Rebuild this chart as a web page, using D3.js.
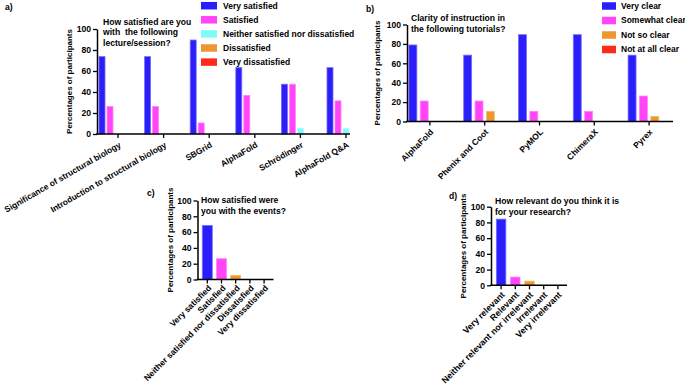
<!DOCTYPE html>
<html>
<head>
<meta charset="utf-8">
<script src="https://cdn.jsdelivr.net/npm/d3@7"></script>
<style>
  html, body { margin: 0; padding: 0; background: #fff; }
  svg text { font-family: 'Liberation Sans', Arial, sans-serif; font-weight: bold; fill: #000; }
</style>
</head>
<body>
<svg id="chart" width="685" height="385"></svg>
<script>
// ---------- DATA ----------
const yTicks = [0, 20, 40, 60, 80, 100];

// Panel a
const aCategories = ["Significance of structural biology", "Introduction to structural biology", "SBGrid", "AlphaFold", "Schrödinger", "AlphaFold Q&A"];
const aSeriesNames = ["Very satisfied", "Satisfied", "Neither satisfied nor dissatisfied", "Dissatisfied", "Very dissatisfied"];
const aVerySatisfied = [73.7, 73.7, 89.5, 63.2, 47.4, 63.2];
const aSatisfied = [26.3, 26.3, 10.5, 36.8, 47.4, 31.6];
const aNeither = [0, 0, 0, 0, 5.3, 5.3];
const aDissatisfied = [0, 0, 0, 0, 0, 0];
const aVeryDissatisfied = [0, 0, 0, 0, 0, 0];
const aTitle = ["How satisfied are you", "with  the following", "lecture/session?"];

// Panel b
const bCategories = ["AlphaFold", "Phenix and Coot", "PyMOL", "ChimeraX", "Pyrex"];
const bSeriesNames = ["Very clear", "Somewhat clear", "Not so clear", "Not at all clear"];
const bVeryClear = [78.9, 68.4, 89.5, 89.5, 68.4];
const bSomewhatClear = [21.1, 21.1, 10.5, 10.5, 26.3];
const bNotSoClear = [0, 10.5, 0, 0, 5.3];
const bNotAtAllClear = [0, 0, 0, 0, 0];
const bTitle = ["Clarity of instruction in", "the following tutorials?"];

// Panel c
const cCategories = ["Very satisfied", "Satisfied", "Neither satisfied nor dissatisfied", "Dissatisfied", "Very dissatisfied"];
const cValues = [68.4, 26.3, 5.3, 0, 0];
const cTitle = ["How satisfied were", "you with the events?"];

// Panel d
const dCategories = ["Very relevant", "Relevant", "Neither relevant nor irrelevant", "Irrelevant", "Very irrelevant"];
const dValues = [84.2, 10.5, 5.3, 0, 0];
const dTitle = ["How relevant do you think it is", "for your research?"];

const yAxisTitle = "Percentages of participants";

// ---------- STYLE ----------
const BLUE = "#2a1ffa", PINK = "#ff45f7", CYAN = "#80fbfb", ORANGE = "#ee9630", RED = "#ff2b1a";
const aColors = [BLUE, PINK, CYAN, ORANGE, RED];
const bColors = [BLUE, PINK, ORANGE, RED];
const cColors = [BLUE, PINK, ORANGE, ORANGE, RED];
const dColors = [BLUE, PINK, ORANGE, ORANGE, RED];
const FS = 8.5;

const svg = d3.select("#chart");

function edge(c) { return d3.interpolateRgb(c, "#ffffff")(0.35); }

function drawAxes(g, o, x, y) {
  const ya = g.append("g").attr("transform", `translate(${o.axX0},0)`)
    .call(d3.axisLeft(y).tickValues(yTicks).tickSize(4).tickPadding(2).tickSizeOuter(0));
  ya.select(".domain").attr("stroke", "#000").attr("stroke-width", 1.5);
  ya.selectAll(".tick line").attr("stroke", "#000").attr("stroke-width", 1.3);
  ya.selectAll(".tick text").style("font-size", "8.6px").attr("font-family", null);

  const xa = g.append("g").attr("transform", `translate(0,${o.y0})`)
    .call(d3.axisBottom(x).tickSize(4).tickSizeOuter(0));
  xa.select(".domain").remove();
  xa.append("line").attr("x1", o.axX0 - 0.75).attr("x2", o.axX1).attr("y1", 0).attr("y2", 0)
    .attr("stroke", "#000").attr("stroke-width", 1.5);
  xa.selectAll(".tick line").attr("stroke", "#000").attr("stroke-width", 1.3);
  xa.selectAll(".tick text")
    .style("font-size", o.lblFS + "px").attr("font-family", null)
    .attr("text-anchor", "end").attr("x", 0).attr("y", 0).attr("dy", "0.35em")
    .attr("transform", `translate(${o.lblDx},${o.lblDy}) rotate(${o.angle})`);

  g.append("text").attr("transform", `translate(${o.ytX},${(o.y0 + o.y100) / 2}) rotate(-90)`)
    .attr("text-anchor", "middle").attr("dy", "0.35em")
    .style("font-size", "8px").text(yAxisTitle);

  const t = g.append("text").style("font-size", "8.6px");
  o.title.forEach((line, i) => {
    t.append("tspan").attr("x", o.titleX).attr("y", o.titleY + i * o.titleLH)
      .attr("xml:space", "preserve").text(line);
  });
  g.append("text").attr("x", o.letterX).attr("y", o.letterY).style("font-size", "8.6px").text(o.letter);
}

function groupedPanel(o) {
  const g = svg.append("g");
  const y = d3.scaleLinear().domain([0, 100]).range([o.y0, o.y100]);
  const x = d3.scaleBand().domain(o.cats).range([o.bx0, o.bx1]).padding(0);
  const inner = d3.scaleBand().domain(o.series).range([-o.half, o.half]).paddingInner(o.innerPad);
  o.values.forEach((vals, si) => {
    g.append("g").selectAll("rect").data(vals.map((v, i) => ({ v, c: o.cats[i] })).filter(d => d.v > 0))
      .join("rect")
      .attr("x", d => x(d.c) + x.bandwidth() / 2 + inner(o.series[si]))
      .attr("width", inner.bandwidth())
      .attr("y", d => y(d.v))
      .attr("height", d => y(0) - y(d.v))
      .attr("fill", o.colors[si])
      .attr("stroke", edge(o.colors[si])).attr("stroke-width", 0.8);
  });
  drawAxes(g, o, x, y);
  const lg = g.append("g");
  o.series.forEach((s, i) => {
    const cy = o.legY + i * o.legStep;
    lg.append("rect").attr("x", o.legX).attr("y", cy - o.swH / 2).attr("width", o.swW).attr("height", o.swH)
      .attr("fill", o.colors[i]);
    lg.append("text").attr("x", o.legTX).attr("y", cy).attr("dy", "0.35em")
      .style("font-size", FS + "px").text(s);
  });
}

function singlePanel(o) {
  const g = svg.append("g");
  const y = d3.scaleLinear().domain([0, 100]).range([o.y0, o.y100]);
  const x = d3.scaleBand().domain(o.cats).range([o.bx0, o.bx1]).padding(0);
  g.append("g").selectAll("rect").data(o.values.map((v, i) => ({ v, c: o.cats[i], i })).filter(d => d.v > 0))
    .join("rect")
    .attr("x", d => x(d.c) + x.bandwidth() / 2 - o.barW / 2)
    .attr("width", o.barW)
    .attr("y", d => y(d.v))
    .attr("height", d => y(0) - y(d.v))
    .attr("fill", d => o.colors[d.i])
    .attr("stroke", d => edge(o.colors[d.i])).attr("stroke-width", 0.8);
  drawAxes(g, o, x, y);
}

groupedPanel({
  cats: aCategories, series: aSeriesNames,
  values: [aVerySatisfied, aSatisfied, aNeither, aDissatisfied, aVeryDissatisfied],
  colors: aColors,
  y0: 134, y100: 29, axX0: 97, axX1: 350, bx0: 95.2, bx1: 368.8, half: 19, innerPad: 0.25,
  lblDx: 2, lblDy: 10, angle: -30, lblFS: 8.4,
  ytX: 69, title: aTitle, titleX: 103, titleY: 24.5, titleLH: 10.6,
  letter: "a)", letterX: 5, letterY: 10,
  legX: 201, legTX: 223, legY: 5.7, legStep: 14.1, swW: 16, swH: 7.5
});

groupedPanel({
  cats: bCategories, series: bSeriesNames,
  values: [bVeryClear, bSomewhatClear, bNotSoClear, bNotAtAllClear],
  colors: bColors,
  y0: 121.5, y100: 24.5, axX0: 407, axX1: 673, bx0: 402.5, bx1: 676.5, half: 21, innerPad: 0.3,
  lblDx: 2, lblDy: 9, angle: -45, lblFS: 8.5,
  ytX: 377, title: bTitle, titleX: 411, titleY: 21, titleLH: 10.5,
  letter: "b)", letterX: 366, letterY: 12,
  legX: 602, legTX: 621, legY: 6, legStep: 14.5, swW: 14, swH: 7.5
});

singlePanel({
  cats: cCategories, values: cValues, colors: cColors,
  y0: 279.5, y100: 200.5, axX0: 197.5, axX1: 273.5, bx0: 200.2, bx1: 271.2, barW: 10,
  lblDx: 2.5, lblDy: 7, angle: -45, lblFS: 8.5,
  ytX: 170, title: cTitle, titleX: 201, titleY: 203, titleLH: 11,
  letter: "c)", letterX: 147, letterY: 196
});

singlePanel({
  cats: dCategories, values: dValues, colors: dColors,
  y0: 285.3, y100: 206.7, axX0: 491, axX1: 567, bx0: 494, bx1: 565, barW: 9.5,
  lblDx: 2, lblDy: 8, angle: -45, lblFS: 8.8,
  ytX: 463, title: dTitle, titleX: 495, titleY: 204, titleLH: 11,
  letter: "d)", letterX: 449, letterY: 199
});
</script>
</body>
</html>
